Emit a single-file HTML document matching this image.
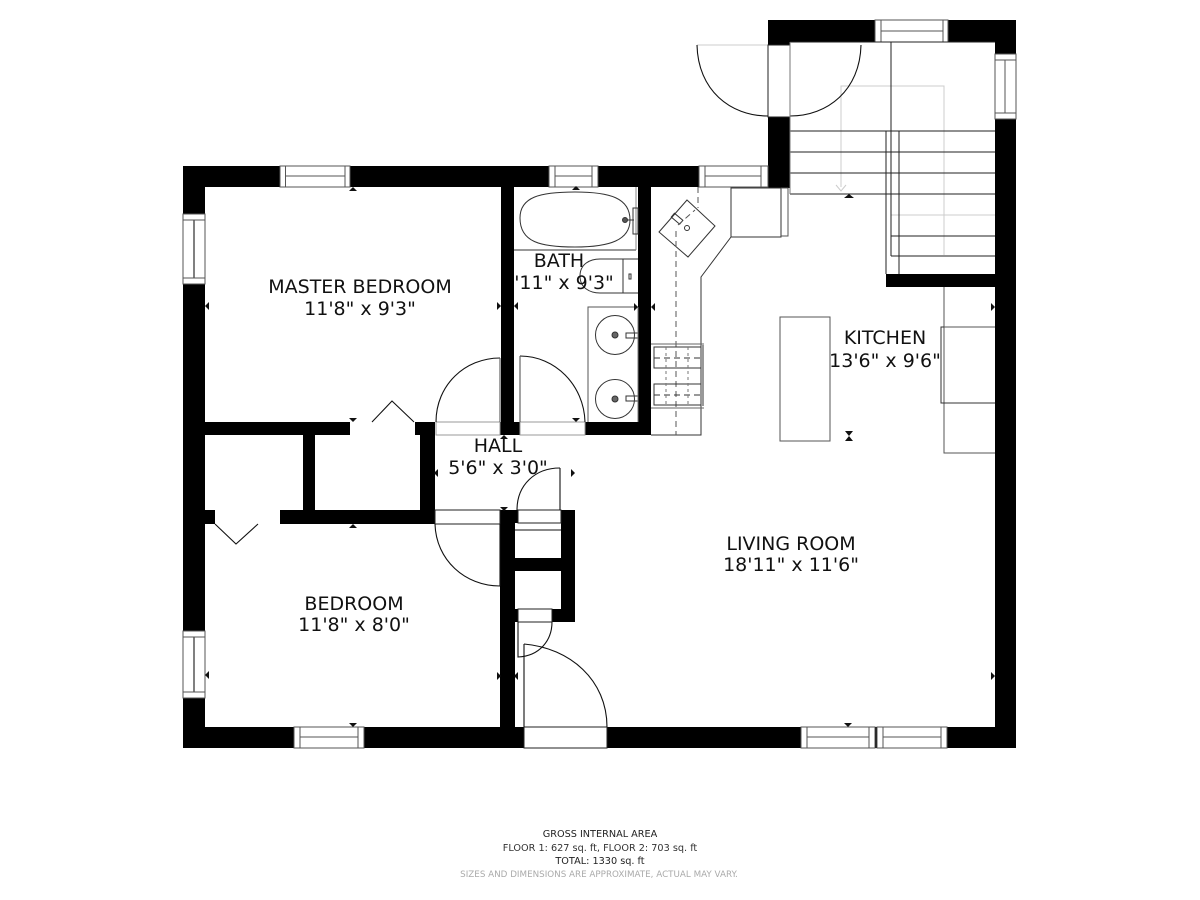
<!DOCTYPE html>
<html><head><meta charset="utf-8"><style>
html,body{margin:0;padding:0;background:#fff;width:1200px;height:900px;overflow:hidden}
svg{display:block}
text{font-family:"DejaVu Sans",sans-serif;text-anchor:middle;fill:#111}
.r{font-size:19px}
.f{font-size:9.7px;fill:#333}
</style></head><body>
<svg width="1200" height="900" viewBox="0 0 1200 900" xmlns="http://www.w3.org/2000/svg">
<!-- light lines -->
<g fill="none" stroke="#ccc" stroke-width="1">
<path d="M841 187V86H944V255"/><path d="M891 215H995"/><path d="M836 185l5 6 5-6"/>
<path d="M697 45H768"/>
</g>
<!-- walls -->
<g fill="#000">
<rect x="183" y="166" width="22" height="582"/>
<rect x="183" y="166" width="607" height="21"/>
<rect x="768" y="20" width="22" height="25"/>
<rect x="768" y="117" width="22" height="71"/>
<rect x="768" y="20" width="248" height="22"/>
<rect x="995" y="20" width="21" height="728"/>
<rect x="183" y="727" width="833" height="21"/>
<rect x="886" y="274" width="110" height="13"/>
<rect x="501" y="187" width="13" height="248"/>
<rect x="638" y="187" width="13" height="248"/>
<rect x="585" y="422" width="66" height="13"/>
<rect x="500" y="422" width="20" height="13"/>
<rect x="205" y="422" width="145" height="13"/>
<rect x="415" y="422" width="20" height="13"/>
<rect x="303" y="435" width="12" height="76"/>
<rect x="420" y="422" width="15" height="102"/>
<rect x="205" y="510" width="10" height="14"/>
<rect x="280" y="510" width="155" height="14"/>
<rect x="500" y="510" width="15" height="238"/>
<rect x="561" y="510" width="14" height="112"/>
<rect x="515" y="510" width="3" height="13"/>
<rect x="515" y="558" width="46" height="13"/>
<rect x="515" y="609" width="3" height="13"/>
<rect x="552" y="609" width="23" height="13"/>
</g>
<!-- windows -->
<g fill="#fff" stroke="#555" stroke-width="1">
<rect x="280" y="166" width="70" height="21"/><path d="M285.500 166V187M345 166V187M285.500 176H345"/>
<rect x="549" y="166" width="49" height="21"/><path d="M555 166V187M592 166V187M555 176H592"/>
<rect x="699" y="166" width="69" height="21"/><path d="M705 166V187M761 166V187M705 176H761"/>
<rect x="875" y="20" width="73" height="22"/><path d="M881 20V42M943 20V42M881 31H943"/>
<rect x="995" y="54" width="21" height="65"/><path d="M995 60H1016M995 113H1016M1005 60V113"/>
<rect x="183" y="214" width="22" height="70"/><path d="M183 220H205M183 278H205"/><path d="M194 220V278" stroke-width="1.500"/>
<rect x="183" y="631" width="22" height="67"/><path d="M183 637H205M183 692H205"/><path d="M194 637V692" stroke-width="1.500"/>
<rect x="294" y="727" width="70" height="21"/><path d="M300 727V748M358 727V748M300 737H358"/>
<rect x="801" y="727" width="74" height="21"/><path d="M807 727V748M869 727V748M807 737H869"/>
<rect x="877" y="727" width="70" height="21"/><path d="M883 727V748M941 727V748M883 737H941"/>
</g>
<!-- openings -->
<g fill="#fff" stroke="#222" stroke-width="1">
<rect x="768" y="45" width="22" height="72"/>
<rect x="436" y="422" width="64" height="13" stroke="#999"/>
<rect x="520" y="422" width="65" height="13" stroke="#999"/>
<rect x="435" y="510" width="65" height="14"/>
<rect x="518" y="510" width="43" height="13"/>
<rect x="518" y="609" width="34" height="13"/>
<rect x="524" y="727" width="83" height="21"/>
</g>
<!-- doors -->
<g fill="none" stroke="#111" stroke-width="1.100">
<path d="M697 45C698 90 730 116 768 116"/>
<path d="M861 45C860 90 828 116 790 116"/>
<path d="M500 358C465 358 436 385 436 422"/>
<path d="M520 356C555 356 584 385 585 422"/>
<path d="M500 586C465 586 436 560 435 524"/>
<path d="M560 468C535 468 517 485 517 510"/>
<path d="M560 468V510"/>
<path d="M552 622C552 640 540 656 518 657V622"/>
<path d="M524 644C570 648 607 680 607 727"/>
<path d="M524 644V727"/>
<path d="M500 358V422M520 356V422" stroke="#555"/>
<path d="M372 422L392 401L414 422"/>
<path d="M215 524L236 544L258 524"/>
<path d="M500 524V586"/>
<path d="M515 530H561"/>
</g>
<!-- stairs -->
<g fill="none" stroke="#222" stroke-width="1">
<path d="M790 42H995M891 42V131"/>
<path d="M790 131H995M790 152H995M790 173H995M790 194H995"/>
<path d="M891 236H995M891 256H995"/>
<path d="M886 131V274M891 131V256M899 131V274"/>
<path d="M790 42V194" stroke="#777"/>
</g>
<!-- kitchen -->
<g fill="none" stroke="#333" stroke-width="1">
<rect x="731" y="188" width="50" height="49"/>
<path d="M781 188H788V236H781" stroke="#555"/>
<path d="M731 237L701 277V435H651"/>
<path d="M687 200L715 226L688 257L659 232Z"/>
<circle cx="687" cy="228" r="2.500"/>
<rect x="672" y="216" width="11" height="5" transform="rotate(40 677 218)"/>
<path d="M676 231V435M698 187V208M678 225L695 210" stroke-dasharray="6 4" stroke="#555"/>
<path d="M651 344H704M651 408H704" stroke="#666"/>
<rect x="654" y="347" width="47" height="21"/>
<rect x="654" y="384" width="47" height="21"/>
<path d="M654 358H701M654 395H701" stroke-dasharray="6 4"/>
<path d="M666 347V406M688 347V406" stroke-dasharray="3 3" stroke="#777"/>
<path d="M703 345V406" stroke="#999" stroke-width="2"/>
<rect x="780" y="317" width="50" height="124" stroke="#555"/>
<path d="M944 287V453H995M944 327H995" stroke="#555"/>
<path d="M944 327H941V403H995" stroke="#333"/>
</g>
<!-- bath -->
<g fill="none" stroke="#333" stroke-width="1">
<path d="M514 250H636"/>
<path d="M636 187V250" stroke="#888"/>
<path d="M520 218C520 197 540 192 575 192C610 192 630 198 630 220C630 240 610 247 575 247C540 247 520 242 520 218Z"/>
<path d="M624 220h10M633 208V234h5V208Z"/>
<circle cx="625" cy="220" r="2.500" fill="#555"/>
<path d="M600 259C590 259 580 264 580 276C580 288 590 293 600 293H638M600 259H638M623 259V293"/>
<rect x="629" y="274" width="2" height="5"/>
<path d="M588 422V307H638" stroke="#555"/>
<circle cx="615" cy="335" r="19.500"/><circle cx="615" cy="399" r="19.500"/>
<circle cx="615" cy="335" r="3" fill="#666"/><circle cx="615" cy="399" r="3" fill="#666"/>
<rect x="626" y="333" width="12" height="5"/><rect x="626" y="396" width="12" height="5"/>
<path d="M638 307V422" stroke="#777"/>
</g>
<!-- ticks -->
<g fill="#111">
<path d="M349 191l4-4 4 4ZM349 418h8l-4 4ZM349 528h8l-4-4ZM349 723h8l-4 4ZM572 190l4-4 4 4ZM572 418h8l-4 4Z"/>
<path d="M205 306l4-4v8ZM497 302l4 4-4 4ZM518 302v8l-4-4ZM634 303l4 4-4 4ZM655 303v8l-4-4Z"/>
<path d="M434 473l4-4v8ZM571 469l4 4-4 4ZM497 672l4 4-4 4ZM518 672v8l-4-4ZM205 675l4-4v8ZM995 676l-4-4v8ZM995 307l-4-4v8ZM844 198l5-4 5 4ZM844 723h8l-4 4ZM500 507h8l-4 4ZM500 439l4-4 4 4Z"/>
<path d="M845 431h8l-4 5 4 5h-8l4-5Z"/>
</g>
<!-- labels -->
<text class="r" x="360" y="293">MASTER BEDROOM</text>
<text class="r" x="360" y="315">11'8" x 9'3"</text>
<text class="r" x="559" y="267">BATH</text>
<text class="r" x="564" y="289">'11" x 9'3"</text>
<text class="r" x="498" y="452">HALL</text>
<text class="r" x="498" y="474">5'6" x 3'0"</text>
<text class="r" x="354" y="610">BEDROOM</text>
<text class="r" x="354" y="631">11'8" x 8'0"</text>
<text class="r" x="885" y="344">KITCHEN</text>
<text class="r" x="885" y="367">13'6" x 9'6"</text>
<text class="r" x="791" y="550">LIVING ROOM</text>
<text class="r" x="791" y="571">18'11" x 11'6"</text>
<text class="f" x="600" y="837" style="fill:#222">GROSS INTERNAL AREA</text>
<text class="f" x="600" y="851">FLOOR 1: 627 sq. ft, FLOOR 2: 703 sq. ft</text>
<text class="f" x="600" y="864" style="fill:#222">TOTAL: 1330 sq. ft</text>
<text class="f" x="599" y="877" style="fill:#aaa;font-size:8.750px">SIZES AND DIMENSIONS ARE APPROXIMATE, ACTUAL MAY VARY.</text>
</svg>
</body></html>
